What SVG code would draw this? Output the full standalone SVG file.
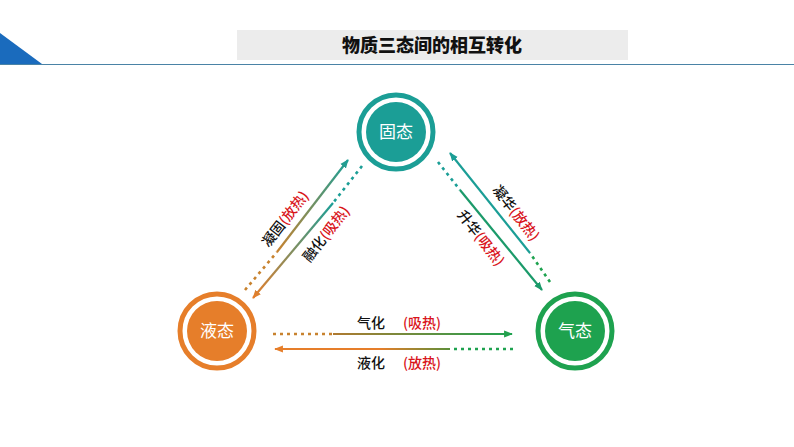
<svg xmlns="http://www.w3.org/2000/svg" width="794" height="447" viewBox="0 0 794 447">
<style>
.t{font-family:"Noto Sans CJK SC","Noto Sans",sans-serif;font-size:14px;font-weight:500;fill:#111}
.r{fill:#d9141b}
.n{font-family:"Noto Sans CJK SC",sans-serif;font-size:17px;fill:#fff;text-anchor:middle}
.s{fill:none;stroke-width:2.2}
.d{fill:none;stroke-width:2.6;stroke-dasharray:3 4}
</style>
<defs>
<marker id="a" viewBox="0 0 10 10" refX="9" refY="5" markerWidth="4" markerHeight="4" orient="auto"><path d="M0,1 L10,5 L0,9 Z" fill="context-stroke"/></marker>
<linearGradient id="g1" gradientUnits="userSpaceOnUse" x1="277" y1="252" x2="348" y2="160"><stop offset="0" stop-color="#c8822e"/><stop offset="1" stop-color="#1b9e96"/></linearGradient>
<linearGradient id="g2" gradientUnits="userSpaceOnUse" x1="333" y1="203" x2="253" y2="298"><stop offset="0" stop-color="#1b9e96"/><stop offset="1" stop-color="#e67e2a"/></linearGradient>
<linearGradient id="g3" gradientUnits="userSpaceOnUse" x1="333" y1="0" x2="512" y2="0"><stop offset="0" stop-color="#b07a30"/><stop offset="1" stop-color="#1ea24f"/></linearGradient>
<linearGradient id="g4" gradientUnits="userSpaceOnUse" x1="450" y1="0" x2="275" y2="0"><stop offset="0" stop-color="#5a8f3a"/><stop offset="0.4" stop-color="#e67e2a"/><stop offset="1" stop-color="#e67e2a"/></linearGradient>
</defs>
<path d="M0,33 L42,64 L0,64 Z" fill="#1a6bbd"/>
<line x1="0" y1="64.5" x2="794" y2="64.5" stroke="#4a83a6" stroke-width="1.2"/>
<rect x="237" y="30" width="391" height="30" fill="#ececec"/>
<text x="432" y="52" text-anchor="middle" style="font-family:'Noto Sans CJK SC',sans-serif;font-size:18px;font-weight:900;fill:#111">物质三态间的相互转化</text>
<g id="solid"><circle cx="396" cy="132" r="37" fill="none" stroke="#1b9e96" stroke-width="5"/><circle cx="396" cy="132" r="30" fill="#1b9e96"/><text class="n" x="396" y="138">固态</text></g>
<g id="liquid"><circle cx="217" cy="331" r="37" fill="none" stroke="#e67e2a" stroke-width="5"/><circle cx="217" cy="331" r="30" fill="#e67e2a"/><text class="n" x="217" y="337">液态</text></g>
<g id="gas"><circle cx="575" cy="331" r="37" fill="none" stroke="#1ea24f" stroke-width="5"/><circle cx="575" cy="331" r="30" fill="#1ea24f"/><text class="n" x="575" y="337">气态</text></g>
<g id="connectors">
<line class="d" x1="245" y1="290" x2="277" y2="252" stroke="#c8822e"/>
<line class="s" x1="277" y1="252" x2="348" y2="160" stroke="url(#g1)" marker-end="url(#a)"/>
<line class="d" x1="362" y1="166" x2="333" y2="203" stroke="#1b9e96"/>
<line class="s" x1="333" y1="203" x2="253" y2="298" stroke="url(#g2)" marker-end="url(#a)"/>
<line class="d" x1="550" y1="282" x2="530" y2="253" stroke="#1ea24f"/>
<line class="s" x1="530" y1="253" x2="450" y2="153" stroke="#1b9e96" marker-end="url(#a)"/>
<line class="d" x1="438" y1="162" x2="460" y2="190" stroke="#1b9e96"/>
<line class="s" x1="460" y1="190" x2="542" y2="290" stroke="#1b9a6a" marker-end="url(#a)"/>
<line class="d" x1="273" y1="334" x2="333" y2="334" stroke="#c8822e"/>
<line class="s" x1="333" y1="334" x2="512" y2="334" stroke="url(#g3)" marker-end="url(#a)"/>
<line class="d" x1="513" y1="349" x2="450" y2="349" stroke="#1ea24f"/>
<line class="s" x1="450" y1="349" x2="275" y2="349" stroke="url(#g4)" marker-end="url(#a)"/>
</g>
<g id="labels">
<text class="t" text-anchor="middle" transform="translate(289,222) rotate(-52)">凝固<tspan class="r">(放热)</tspan></text>
<text class="t" text-anchor="middle" transform="translate(330,237) rotate(-52)">融化<tspan class="r">(吸热)</tspan></text>
<text class="t" text-anchor="middle" transform="translate(512,216) rotate(52)">凝华<tspan class="r">(放热)</tspan></text>
<text class="t" text-anchor="middle" transform="translate(477,241) rotate(52)">升华<tspan class="r">(吸热)</tspan></text>
<text class="t" x="357" y="328">气化 <tspan class="r" x="403">(吸热)</tspan></text>
<text class="t" x="357" y="368">液化 <tspan class="r" x="403">(放热)</tspan></text>
</g>
</svg>
